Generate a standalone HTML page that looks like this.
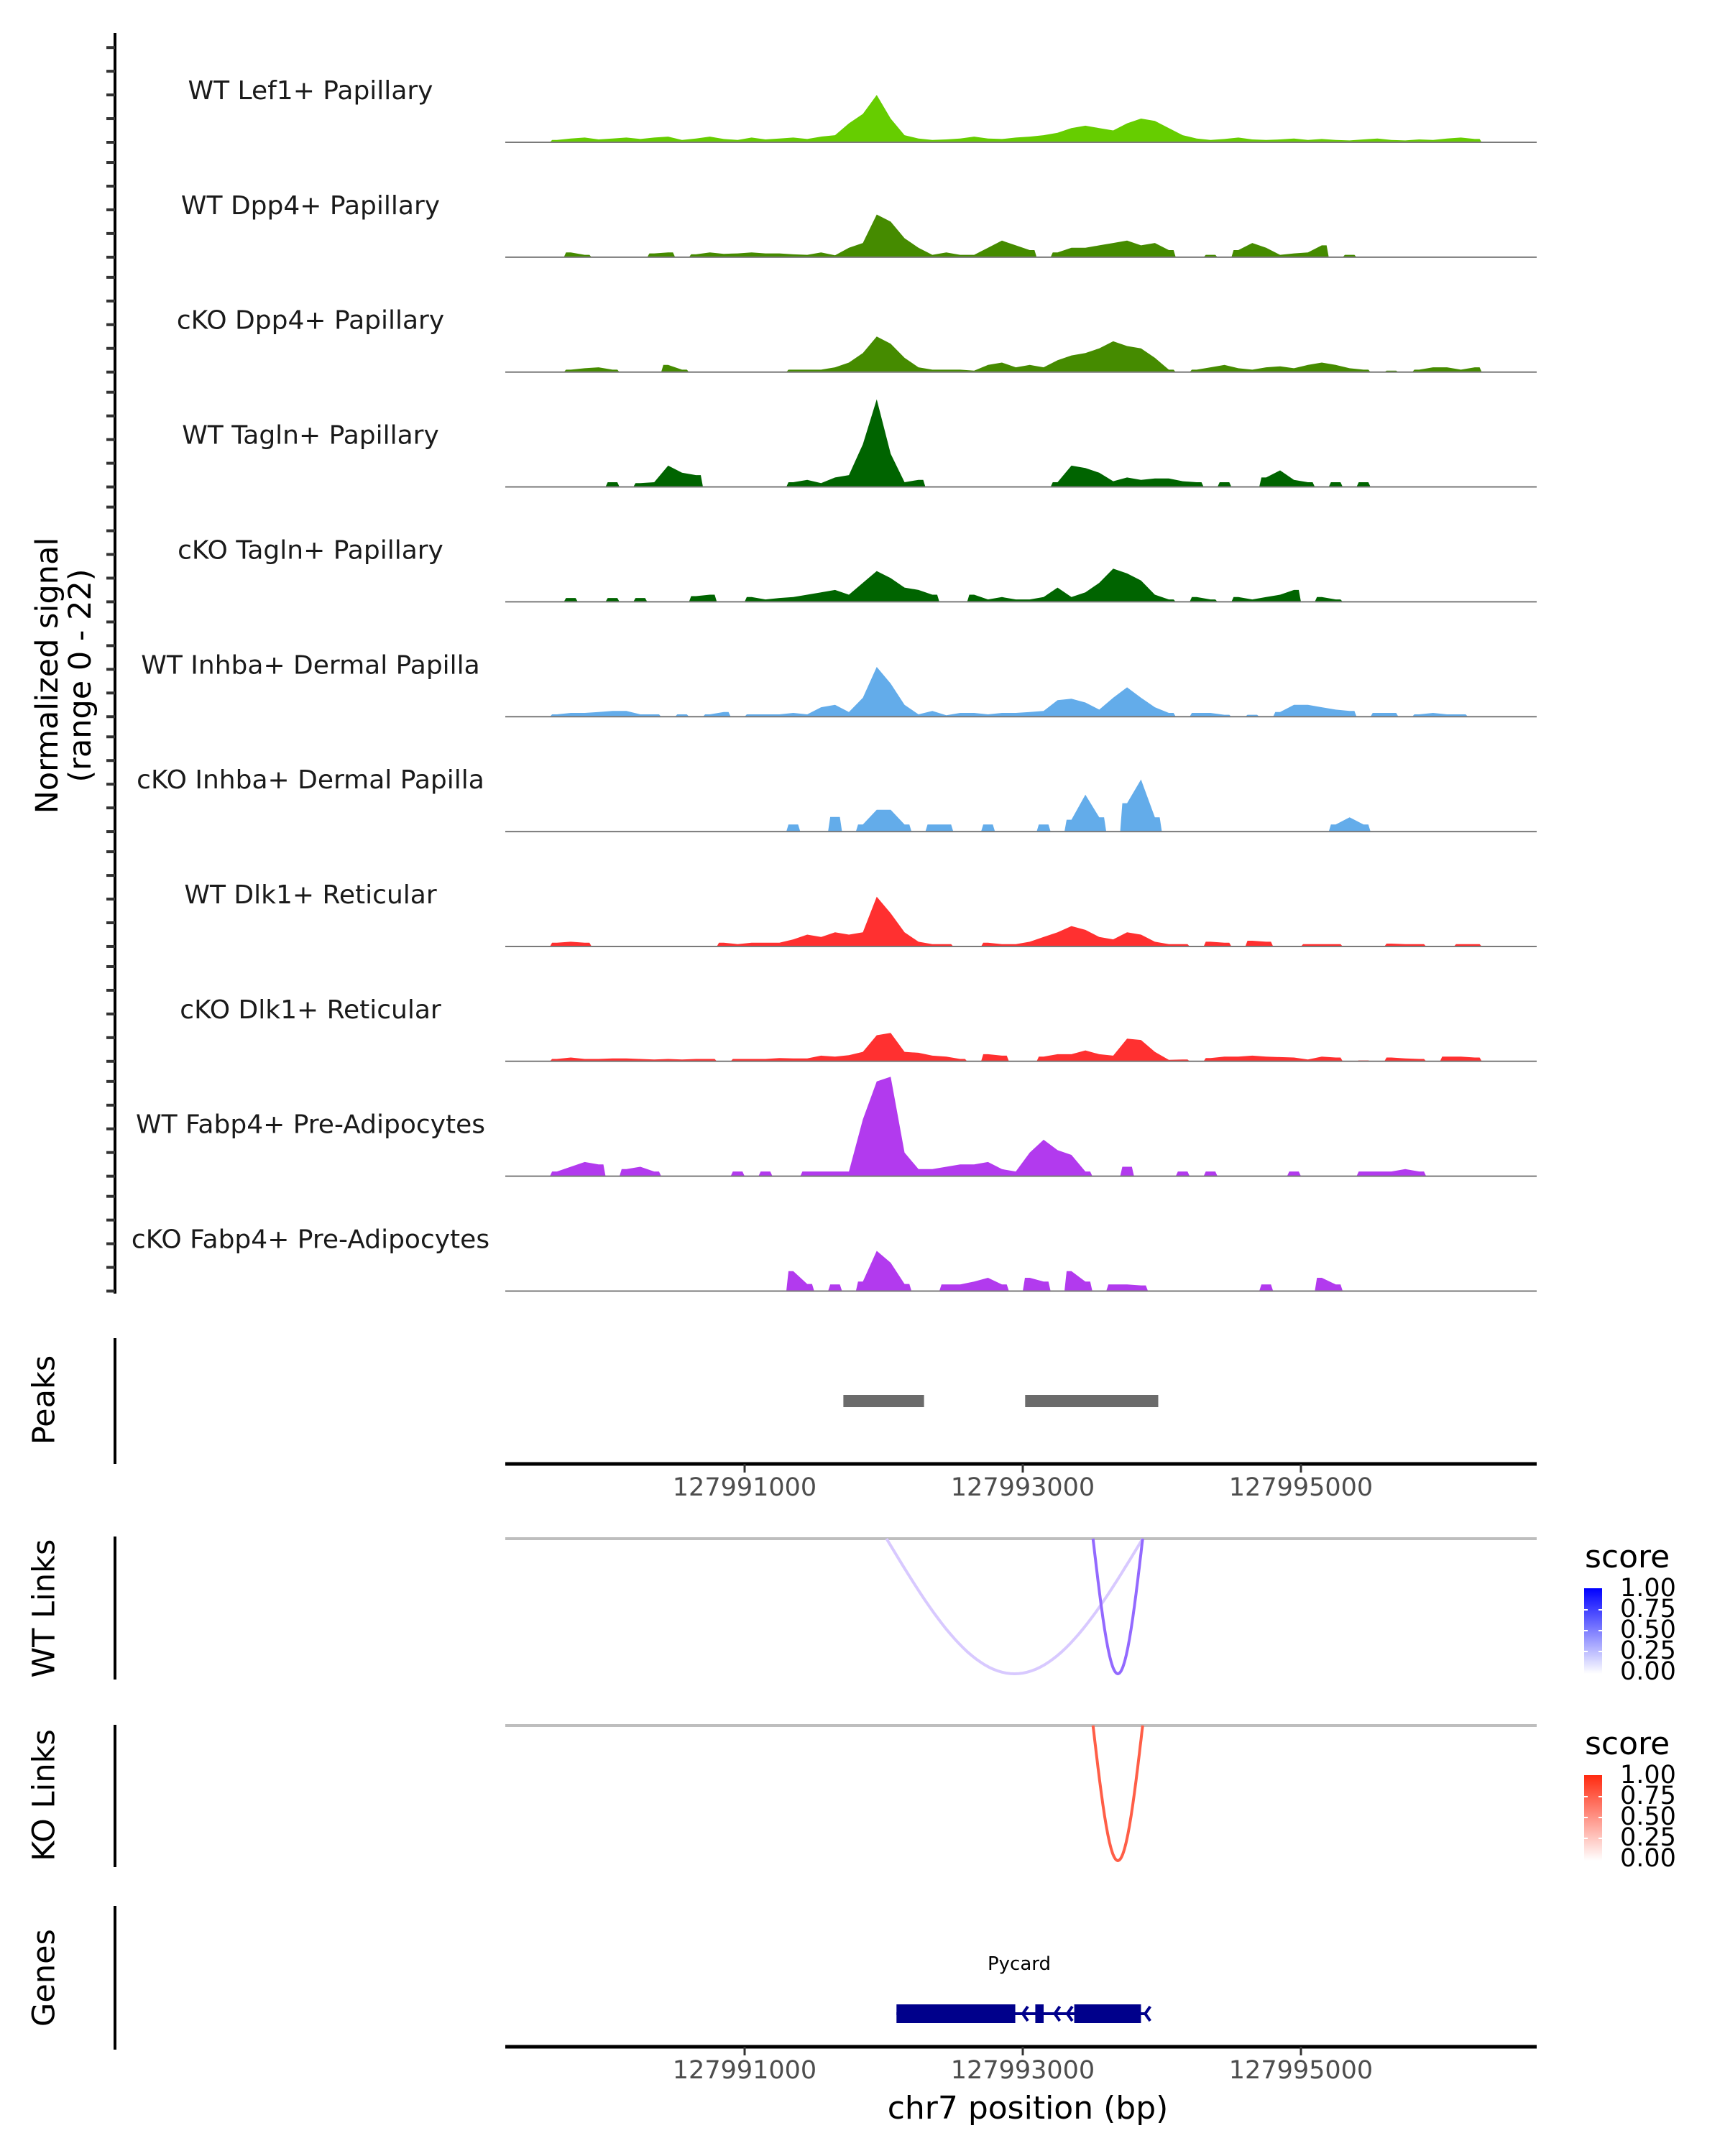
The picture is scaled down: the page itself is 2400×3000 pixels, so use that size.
<!DOCTYPE html>
<html><head><meta charset="utf-8"><style>
html,body{margin:0;padding:0;background:#fff}
svg{display:block}
text{font-family:"DejaVu Sans","Liberation Sans",sans-serif}
</style></head><body>
<svg id="chart" width="2400" height="3000" viewBox="0 0 2400 3000" xmlns="http://www.w3.org/2000/svg">
<g id="tracks"></g>
<g id="lower"></g>
</svg>
<script>
// ---- data ----
const trackNames = ["WT Lef1+ Papillary","WT Dpp4+ Papillary","cKO Dpp4+ Papillary","WT Tagln+ Papillary","cKO Tagln+ Papillary","WT Inhba+ Dermal Papilla","cKO Inhba+ Dermal Papilla","WT Dlk1+ Reticular","cKO Dlk1+ Reticular","WT Fabp4+ Pre-Adipocytes","cKO Fabp4+ Pre-Adipocytes"];
const trackColors = ["#66cd00","#458b00","#458b00","#006400","#006400","#63acea","#63acea","#ff3030","#ff3030","#b23aee","#b23aee"];
const binStart = 127989650;
const binWidth = 100;
const sigLef1WT = [0.5,0.8,1,0.6,0.8,1,0.7,1,1.2,0.5,0.8,1.2,0.7,0.5,1,0.6,0.8,1,0.7,1.2,1.5,4,6,10,5,1.5,0.8,0.5,0.6,0.8,1.2,0.8,0.7,1,1.2,1.5,2,3,3.5,3,2.5,4,5,4.5,3,1.5,0.8,0.5,0.7,1,0.6,0.5,0.6,0.8,0.5,0.7,0.5,0.4,0.6,0.8,0.5,0.4,0.6,0.5,0.8,1,0.7,0];
const sigDpp4WT = [0,1,0.5,0,0,0,0,0.8,1,0,0.6,1,0.7,0.8,1,0.8,0.8,0.6,0.5,1,0.4,2,3,9,7.5,4,2,0.5,1,0.5,0.5,2,3.5,2.5,1.5,0,1,2,2,2.5,3,3.5,2.5,3,1.5,0,0,0.5,0,1.5,3,2,0.5,0.8,1,2.5,0,0.5,0,0,0,0,0,0,0,0,0,0];
const sigDpp4KO = [0,0.5,0.8,1,0.5,0,0,0,1.5,0.5,0,0,0,0,0,0,0,0.5,0.5,0.5,1,2,4,7.5,6,3,1,0.5,0.5,0.5,0.3,1.5,2,1,1.5,1,2.5,3.5,4,5,6.5,5.5,5,3,0.5,0,0.5,1,1.5,0.8,0.5,1,1.2,0.8,1.5,2,1.5,0.8,0.5,0,0.3,0,0.5,1,1,0.5,1,0];
const sigTaglnWT = [0,0,0,0,1,0,0.8,1,4.5,3,2.5,0,0,0,0,0,0,1,1.5,0.8,2,2.5,9,18.5,7,1,1.5,0,0,0,0,0,0,0,0,0,1,4.5,4,3,1.2,2,1.5,1.8,1.8,1.2,1,0,1,0,0,2,3.5,1.5,1,0,1,0,1,0,0,0,0,0,0,0,0,0];
const sigTaglnKO = [0,0.8,0,0,0.8,0,0.8,0,0,0,1.2,1.5,0,0,1,0.5,0.8,1,1.5,2,2.5,1.5,4,6.5,5,3,2.5,1.5,0,0,1.5,0.5,1,0.5,0.5,1,3,1,2,4,7,6,4.5,1.5,0.5,0,1,0.5,0,1,0.5,1,1.5,2.5,0,1,0.5,0,0,0,0,0,0,0,0,0,0,0];
const sigInhbaWT = [0.5,0.8,0.8,1,1.2,1.2,0.5,0.5,0,0.5,0,0.5,1,0,0.5,0.5,0.5,0.8,0.5,2,2.5,1,4,10.5,7,2.5,0.5,1.2,0.3,0.8,0.8,0.5,0.8,0.8,1,1.2,3.5,3.8,3,1.5,4,6.2,4,2,0.8,0,0.8,0.8,0.4,0,0.4,0,1,2.5,2.5,2,1.5,1.2,0,0.8,0.8,0,0.5,0.8,0.5,0.5,0,0];
const sigInhbaKO = [0,0,0,0,0,0,0,0,0,0,0,0,0,0,0,0,0,1.5,0,0,3.1,0,1.5,4.6,4.6,1.5,0,1.5,1.5,0,0,1.5,0,0,0,1.5,0,2.5,7.8,3,0,6,11,3,0,0,0,0,0,0,0,0,0,0,0,0,1.5,3,1.5,0,0,0,0,0,0,0,0,0];
const sigDlk1WT = [0.8,1,0.8,0,0,0,0,0,0,0,0,0,0.8,0.5,0.8,0.8,0.8,1.5,2.5,2,3,2.5,3,10.5,7,3,1,0.5,0.5,0,0,0.8,0.5,0.5,1,2,3,4.3,3.5,2,1.5,3,2.5,1,0.5,0.5,0,1,0.8,0,1.2,1,0,0,0.5,0.5,0.5,0,0,0,0.6,0.5,0.5,0,0,0.5,0.5,0];
const sigDlk1KO = [0.5,0.8,0.5,0.5,0.6,0.6,0.5,0.4,0.5,0.4,0.5,0.5,0,0.5,0.5,0.5,0.7,0.6,0.6,1.2,1,1.3,2,5.5,6,2,1.8,1.2,1,0.5,0,1.5,1.2,0,0,1,1.5,1.5,2.3,1.5,1.2,4.8,4.5,2,0.3,0.4,0,0.7,1,1,1.2,1,0.9,0.8,0.4,1,0.8,0,0.2,0,0.8,0.6,0.5,0,1,1,0.8,0];
const sigFabp4WT = [1,2,3,2.5,0,1.5,2,1,0,0,0,0,0,1,0,1,0,0,1,1,1,1,12,20,21,5,1.5,1.5,2,2.5,2.5,3,1.5,1,5,7.7,5.5,4.5,1,0,0,2,0,0,0,1,0,1,0,0,0,0,0,1,0,0,0,0,1,1,1,1.5,1,0,0,0,0,0];
const sigFabp4KO = [0,0,0,0,0,0,0,0,0,0,0,0,0,0,0,0,0,4.2,1.5,0,1.4,0,2,8.5,6,1.5,0,0,1.4,1.4,2,2.8,1.4,0,2.8,2,0,4.2,2,0,1.4,1.4,1.2,0,0,0,0,0,0,0,0,1.4,0,0,0,2.8,1.4,0,0,0,0,0,0,0,0,0,0,0];
const signals = [sigLef1WT,sigDpp4WT,sigDpp4KO,sigTaglnWT,sigTaglnKO,sigInhbaWT,sigInhbaKO,sigDlk1WT,sigDlk1KO,sigFabp4WT,sigFabp4KO];
const xTicks = [127991000,127993000,127995000];
const peakStarts = [127991710,127993017];
const peakEnds = [127992290,127993974];
const wtLinkStarts = [127992020,127993505];
const wtLinkEnds = [127993862,127993862];
const wtLinkScores = [0.25,0.7];
const koLinkStarts = [127993505];
const koLinkEnds = [127993862];
const koLinkScores = [0.75];
const exonStarts = [127992092,127993090,127993370];
const exonEnds = [127992946,127993150,127993850];
const legendTicks = ["1.00","0.75","0.50","0.25","0.00"];
const yMaxSignal = 22;

// ---- scales ----
const NS="http://www.w3.org/2000/svg";
const X0=703, X1=2138;
function xs(bp){return 1036+(bp-127991000)*0.1935;}
const trackH=145;
function ys(v,base){return base - v/yMaxSignal*trackH;}
function mk(tag,attrs,parent,txt){const e=document.createElementNS(NS,tag);for(const k in attrs)e.setAttribute(k,attrs[k]);if(txt!==undefined)e.textContent=txt;parent.appendChild(e);return e;}

const T=document.getElementById('tracks');
const L=document.getElementById('lower');

let ax=mk('line',{x1:160,y1:46,x2:160,y2:1800,stroke:'#000','stroke-width':4},T);


let yt=mk('text',{x:0,y:0,'font-size':43,'text-anchor':'middle',fill:'#000',transform:'translate(80,940) rotate(-90)'},T);


mk('tspan',{x:0,dy:0},yt,'Normalized signal');
mk('tspan',{x:0,dy:46},yt,'(range 0 - 22)');

for(let t=0;t<signals.length;t++){
  const base=198+159.85*t;
  const g=mk('g',{},T);
  
  
  for(let k=0;k<5;k++){
    const ty=ys(k*5,base);
    const tk=mk('line',{x1:148,x2:160,y1:ty,y2:ty,stroke:'#333','stroke-width':4},g);
    
    
  }
  const lab=mk('text',{x:432,y:base-70,'font-size':36,'text-anchor':'middle','dominant-baseline':'middle',fill:'#1a1a1a'},g,trackNames[t]);
  
  
  const vals=signals[t];
  let d='';let open=false;
  for(let i=0;i<vals.length;i++){
    const c=binStart+binWidth*i;
    const xl=xs(c-binWidth/2), xr=xs(c+binWidth/2), xc=xs(c);
    if(vals[i]>0){
      const y=ys(vals[i],base).toFixed(1);
      if(!open){d+='M'+xl.toFixed(1)+','+base+' L'+(xl+3).toFixed(1)+','+y+' ';open=true;}
      d+='L'+xc.toFixed(1)+','+y+' ';
      if(i===vals.length-1||vals[i+1]<=0){d+='L'+(xr-3).toFixed(1)+','+y+' L'+xr.toFixed(1)+','+base+' Z ';open=false;}
    }
  }
  const ar=mk('path',{d:d,fill:trackColors[t]},g);
  
  
  const bl=mk('line',{x1:X0,x2:X1,y1:base,y2:base,stroke:'#7a7a7a','stroke-width':2},g);
  
  
}

function sideLabel(txt,cy,y1,y2,name){
  const a=mk('line',{x1:160,x2:160,y1:y1,y2:y2,stroke:'#000','stroke-width':4},L);
  
  
  const t=mk('text',{x:0,y:0,'font-size':43,'text-anchor':'middle','dominant-baseline':'middle',fill:'#000',transform:'translate(64,'+cy+') rotate(-90)'},L,txt);
  
  
}
sideLabel('Peaks',1948,1862,2037,'peaks');
sideLabel('WT Links',2238,2138,2337,'wt-links');
sideLabel('KO Links',2498,2400,2598,'ko-links');
sideLabel('Genes',2752,2652,2852,'genes');

for(let i=0;i<peakStarts.length;i++){
  const r=mk('rect',{x:xs(peakStarts[i]),y:1941,width:xs(peakEnds[i])-xs(peakStarts[i]),height:17,fill:'#6b6b6b'},L);
  
  
}
function xAxis(y,name){
  const a=mk('line',{x1:X0,x2:X1,y1:y,y2:y,stroke:'#000','stroke-width':5},L);
  
  
  for(const tv of xTicks){
    const tk=mk('line',{x1:xs(tv),x2:xs(tv),y1:y,y2:y+12,stroke:'#333','stroke-width':3},L);
    
    
    const tl=mk('text',{x:xs(tv),y:y+44,'font-size':35,'text-anchor':'middle',fill:'#4d4d4d'},L,String(tv));
    
    
  }
}
xAxis(2037,'peaks-x-axis');

function mix(c,s){return 'rgb('+c.map(v=>Math.round(255+(v-255)*s)).join(',')+')';}
function links(starts,ends,scores,top,bottom,col,name){
  const gl=mk('line',{x1:X0,x2:X1,y1:top,y2:top,stroke:'#bebebe','stroke-width':4},L);
  
  
  for(let i=0;i<starts.length;i++){
    const a=xs(starts[i]),b=xs(ends[i]);let d='';
    for(let k=0;k<=60;k++){const t=k/60;const x=a+(b-a)*t;const y=top+(bottom-top)*Math.sin(Math.PI*t);d+=(k?'L':'M')+x.toFixed(1)+','+y.toFixed(1)+' ';}
    const p=mk('path',{d:d,fill:'none',stroke:mix(col,scores[i]),'stroke-width':4},L);
    
    
  }
}
links(wtLinkStarts,wtLinkEnds,wtLinkScores,2141,2329,[100,40,255],'wt-link');
links(koLinkStarts,koLinkEnds,koLinkScores,2401,2589,[255,40,10],'ko-link');

function legend(oy,col,id,name){
  const defs=mk('defs',{},L);
  const lg=mk('linearGradient',{id:id,x1:0,y1:1,x2:0,y2:0},defs);
  mk('stop',{offset:'0','stop-color':'#ffffff'},lg);
  mk('stop',{offset:'1','stop-color':col},lg);
  const st=mk('text',{x:2205,y:2181+oy,'font-size':44,fill:'#000'},L,'score');
  
  
  const r=mk('rect',{x:2204,y:2210+oy,width:25,height:119,fill:'url(#'+id+')'},L);
  
  
  for(let i=0;i<legendTicks.length;i++){
    const ly=2211+oy+i*29;
    const tl=mk('text',{x:2254,y:ly,'font-size':35,'dominant-baseline':'middle',fill:'#000'},L,legendTicks[i]);
    
    
    if(i>0&&i<4){
      mk('line',{x1:2204,x2:2209,y1:ly,y2:ly,stroke:'#fff','stroke-width':2},L);
      mk('line',{x1:2224,x2:2229,y1:ly,y2:ly,stroke:'#fff','stroke-width':2},L);
    }
  }
}
legend(0,'#0000ff','gw','wt');
legend(260,'#ff2a10','gk','ko');

const gn=mk('text',{x:1418,y:2741,'font-size':26,'text-anchor':'middle',fill:'#000'},L,'Pycard');


const gline=mk('line',{x1:xs(exonStarts[0]),x2:xs(exonEnds[exonEnds.length-1])+6,y1:2802,y2:2802,stroke:'#00008b','stroke-width':4},L);


for(let i=0;i<exonStarts.length;i++){
  const r=mk('rect',{x:xs(exonStarts[i]),y:2789,width:xs(exonEnds[i])-xs(exonStarts[i]),height:26,fill:'#00008b'},L);
  
  
}
const arrowsBp=[127992440,127993000,127993230,127993320,127993880];
for(const b of arrowsBp){
  const x=xs(b);
  const p=mk('path',{d:'M'+(x+7)+',2792 L'+x+',2802 L'+(x+7)+',2812',fill:'none',stroke:'#00008b','stroke-width':4},L);
  
  
}
xAxis(2848,'genes-x-axis');
const xt=mk('text',{x:1430,y:2948,'font-size':44,'text-anchor':'middle',fill:'#000'},L,'chr7 position (bp)');


</script>
</body></html>
